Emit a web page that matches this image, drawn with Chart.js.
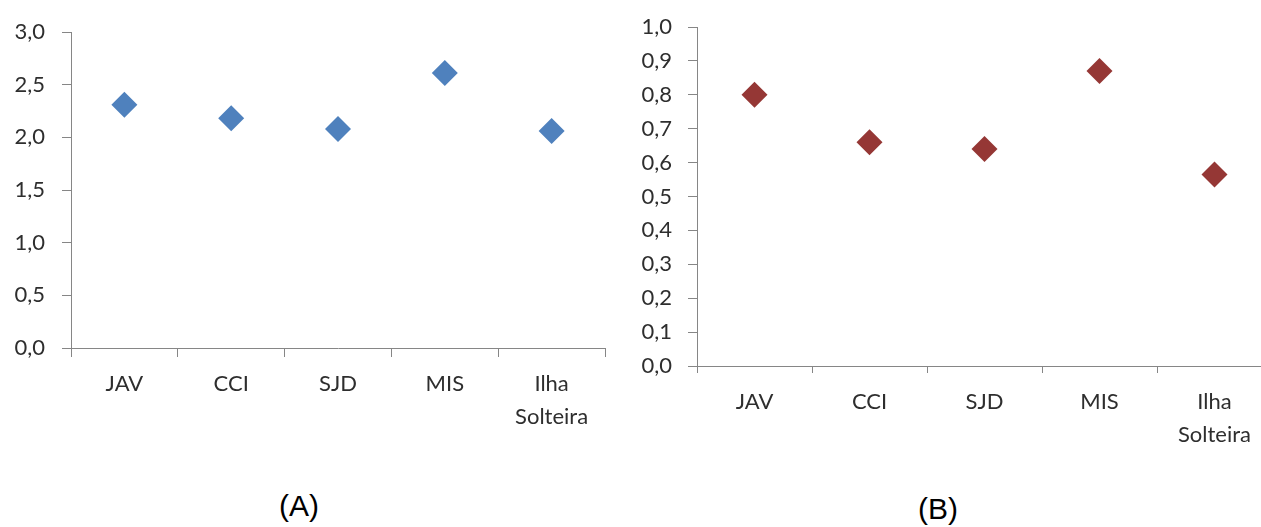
<!DOCTYPE html>
<html>
<head>
<meta charset="utf-8">
<script src="https://cdn.jsdelivr.net/npm/chart.js@4.4.0/dist/chart.umd.min.js"></script>
<style>
  html, body { margin: 0; padding: 0; background: #fff; overflow: hidden; }
  #wrap { position: relative; width: 1261px; height: 527px; overflow: hidden; background: #fff; }
  canvas { position: absolute; top: 0; }
  #chartA { left: 0; }
  #chartB { left: 620px; }
  .cap {
    position: absolute;
    font-family: "Liberation Sans", Arial, sans-serif;
    font-size: 30px;
    color: #000;
    transform: translate(-50%, -50%);
    white-space: nowrap;
  }
</style>
</head>
<body>
<div id="wrap">
  <canvas id="chartA" width="640" height="450"></canvas>
  <canvas id="chartB" width="700" height="460"></canvas>
  <div class="cap" style="left:299px; top:506px;">(A)</div>
  <div class="cap" style="left:938px; top:509px;">(B)</div>
</div>
<script>
// Sites along the reservoir cascade
const categories = ['JAV', 'CCI', 'SJD', 'MIS', ['Ilha', 'Solteira']];

// Panel (A) values
const valuesA = [2.31, 2.18, 2.08, 2.61, 2.06];
// Panel (B) values
const valuesB = [0.80, 0.66, 0.64, 0.87, 0.565];

// Y axis ranges and steps for each panel
const yMaxA = 3.0, yStepA = 0.5;
const yMaxB = 1.0, yStepB = 0.1;

const AXIS_COLOR = '#868686';
const TEXT_COLOR = '#2e2e2e';
const FAMILY = 'Lato, "Open Sans", sans-serif';
const X_FONT = { family: FAMILY, size: 22, lineHeight: 1.47 };
const Y_FONT = { family: FAMILY, size: 22, lineHeight: 1.0 };

// Decimal comma formatting for the value axis
const commaFmt = v => Number(v).toFixed(1).replace('.', ',');

function makePanel(canvasId, values, color, yMax, yStep, geo) {
  return new Chart(document.getElementById(canvasId), {
    type: 'line',
    data: {
      labels: categories,
      datasets: [{
        data: values,
        showLine: false,
        pointStyle: 'rectRot',
        pointRadius: 13,
        pointHoverRadius: 13,
        backgroundColor: color,
        borderColor: color,
        borderWidth: 0
      }]
    },
    options: {
      responsive: false,
      animation: false,
      devicePixelRatio: 1,
      events: [],
      layout: { padding: { top: geo.top, right: geo.right, left: 0, bottom: 0 } },
      plugins: { legend: { display: false }, tooltip: { enabled: false } },
      scales: {
        x: {
          type: 'category',
          offset: true,
          grid: { offset: true, drawOnChartArea: false, drawTicks: true, tickLength: geo.xTick, color: AXIS_COLOR, lineWidth: 1 },
          border: { display: true, color: AXIS_COLOR, width: 1 },
          ticks: { font: X_FONT, color: TEXT_COLOR, padding: geo.xPad, maxRotation: 0, autoSkip: false },
          afterFit(scale) { scale.height = geo.xHeight; }
        },
        y: {
          min: 0,
          max: yMax,
          ticks: { stepSize: yStep, autoSkip: false, callback: commaFmt, font: Y_FONT, color: TEXT_COLOR, padding: geo.yPad },
          grid: { drawOnChartArea: false, drawTicks: true, tickLength: 9, color: AXIS_COLOR, lineWidth: 1 },
          border: { display: true, color: AXIS_COLOR, width: 1 },
          afterFit(scale) { scale.width = geo.yWidth; }
        }
      }
    }
  });
}

makePanel('chartA', valuesA, '#4F81BD', yMaxA, yStepA,
  { top: 32, right: 35, yWidth: 71, xHeight: 102, xTick: 9, xPad: 11, yPad: 17 });

makePanel('chartB', valuesB, '#953735', yMaxB, yStepB,
  { top: 25, right: 48, yWidth: 77, xHeight: 94, xTick: 7, xPad: 13, yPad: 16 });
</script>
</body>
</html>
